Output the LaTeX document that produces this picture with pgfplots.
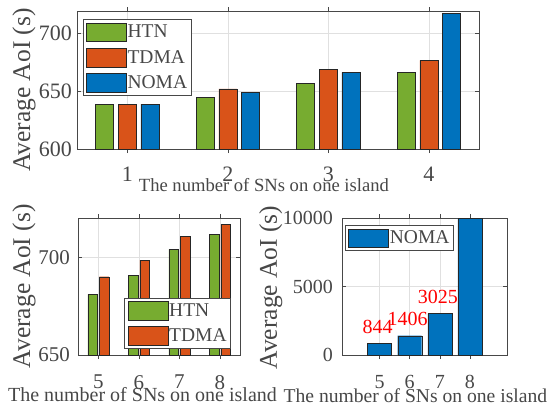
\documentclass[border=0pt]{standalone}
\usepackage{fontspec}
\setmainfont{Liberation Serif}
\usepackage{pgfplots}
\pgfplotsset{compat=1.18}
\definecolor{htn}{RGB}{119,172,48}
\definecolor{tdma}{RGB}{217,83,25}
\definecolor{noma}{RGB}{0,114,189}
\definecolor{txt}{rgb}{0.28,0.28,0.28}
\definecolor{gridc}{rgb}{0.88,0.88,0.88}
\pgfplotsset{
  mystyle/.style={
    scale only axis,
    scaled ticks=false,
    axis line style={txt, line width=0.6pt},
    tick align=inside,
    major tick length=4pt,
    major tick style={txt, line width=0.5pt},
    xmajorgrids, ymajorgrids,
    grid style={gridc, line width=0.5pt},
    tick label style={text=txt, inner sep=0pt},
    label style={text=txt, inner sep=0pt},
    legend style={draw=txt, fill=white, text=txt, line width=0.6pt, inner xsep=3pt, inner ysep=3pt, row sep=6.2pt, nodes={inner sep=1pt}},
    legend cell align=left,
  },
  legbox/.style={legend image code/.code={\draw[##1, draw=black!85, line width=0.6pt] (0pt,-9.3pt) rectangle (40pt,9.3pt);}},
}
\begin{document}
\begin{tikzpicture}
\useasboundingbox (0pt,0pt) rectangle (554pt,-407pt);
% ---------- top ----------
\begin{axis}[mystyle, at={(77pt,-11pt)}, anchor=north west, width=402pt, height=138pt,
  ybar=4.7pt, bar width=18pt,
  xmin=0.5, xmax=4.5, ymin=600, ymax=719.3,
  xtick={1,2,3,4}, xticklabels={1,2,3,4},
  ytick={600,650,700}, yticklabels={600,650,700},
  xticklabel style={font=\fontsize{22}{24}\selectfont, anchor=north, yshift=-14pt},
  yticklabel style={font=\fontsize{22}{24}\selectfont, anchor=east, xshift=-5pt},
  xlabel={The number of SNs on one island},
  xlabel style={font=\fontsize{18.6}{20}\selectfont, at={(axis description cs:0.465,0)}, anchor=north, yshift=-29.5pt},
  ylabel={Average AoI (s)},
  ylabel style={font=\fontsize{25.5}{28}\selectfont, at={(axis description cs:-0.1169,0.4275)}, anchor=base},
  legend style={at={(axis description cs:0.014,0.94)}, anchor=north west, font=\fontsize{19.5}{21}\selectfont},
]
\addplot[fill=htn, draw=black!85, legbox] coordinates {(1,638.9) (2,644.9) (3,657.0) (4,666.3)};
\addplot[fill=tdma, draw=black!85, legbox] coordinates {(1,638.9) (2,651.9) (3,668.9) (4,676.7)};
\addplot[fill=noma, draw=black!85, legbox] coordinates {(1,638.9) (2,648.7) (3,666.3) (4,717.3)};
\legend{HTN,TDMA,NOMA}
\end{axis}
% ---------- bottom left ----------
\begin{axis}[mystyle, at={(78pt,-218pt)}, anchor=north west, width=162pt, height=137pt,
  ybar=2pt, bar width=9.5pt,
  xmin=4.5, xmax=8.5, ymin=650, ymax=720,
  xtick={5,6,7,8}, xticklabels={5,6,7,8},
  ytick={650,700}, yticklabels={650,700},
  xticklabel style={font=\fontsize{21}{23}\selectfont, anchor=north, yshift=-16pt},
  yticklabel style={font=\fontsize{21}{23}\selectfont, anchor=east, xshift=-8pt},
  xlabel={The number of SNs on one island},
  xlabel style={font=\fontsize{20}{22}\selectfont, at={(axis description cs:0.398,0)}, anchor=north, yshift=-32pt},
  ylabel={Average AoI (s)},
  ylabel style={font=\fontsize{25.5}{28}\selectfont, at={(axis description cs:-0.296,0.502)}, anchor=base},
  legend style={at={(axis description cs:0.286,0.418)}, anchor=north west, font=\fontsize{19.5}{21}\selectfont},
]
\addplot[fill=htn, draw=black!85, legbox] coordinates {(5,681.0) (6,690.7) (7,704.0) (8,711.7)};
\addplot[fill=tdma, draw=black!85, legbox] coordinates {(5,690.0) (6,698.5) (7,710.6) (8,716.7)};
\legend{HTN,TDMA}
\end{axis}
% ---------- bottom right ----------
\begin{axis}[mystyle, at={(342pt,-218pt)}, anchor=north west, width=165pt, height=137pt,
  ybar=2pt, bar width=24pt,
  xmin=3.75, xmax=9.23, ymin=0, ymax=10000,
  xtick={5,6,7,8}, xticklabels={5,6,7,8},
  ytick={0,5000,10000}, yticklabels={0,5000,10000},
  xticklabel style={font=\fontsize{20}{22}\selectfont, anchor=north, yshift=-16pt},
  yticklabel style={font=\fontsize{20}{22}\selectfont, anchor=east, xshift=-9pt},
  xlabel={The number of SNs on one island},
  xlabel style={font=\fontsize{19.6}{22}\selectfont, at={(axis description cs:0.445,0)}, anchor=north, yshift=-33pt},
  ylabel={Average AoI (s)},
  ylabel style={font=\fontsize{25.5}{28}\selectfont, at={(axis description cs:-0.395,0.493)}, anchor=base},
  legend style={at={(axis description cs:0.018,0.947)}, anchor=north west, font=\fontsize{19.5}{21}\selectfont},
]
\addplot[fill=noma, draw=black!85, legbox, nodes near coords, point meta=explicit symbolic,
  nodes near coords style={font=\fontsize{20}{22}\selectfont, text=red, anchor=south, yshift=9.5pt, xshift=-2pt, inner sep=0pt}]
  coordinates {(5,844)[844] (6,1406)[1406] (7,3025)[3025] (8,10000)[]};
\legend{NOMA}
\end{axis}
\end{tikzpicture}
\end{document}
